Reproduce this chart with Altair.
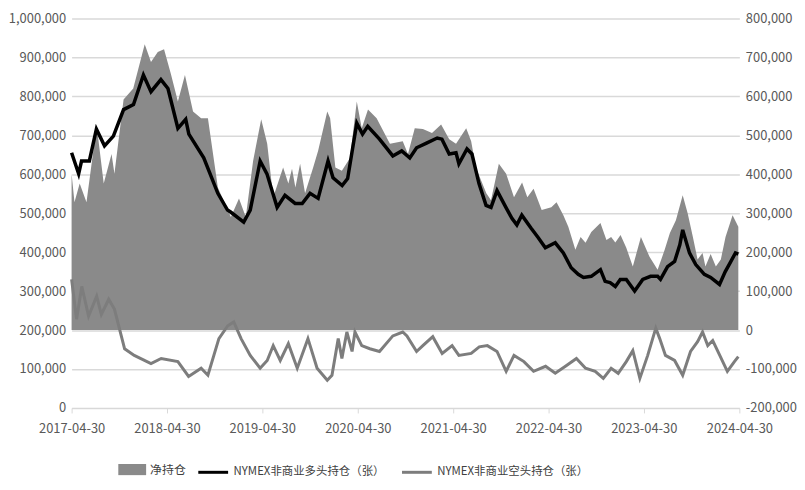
import altair as alt
import pandas as pd

NET = "净持仓"
LONG = "NYMEX非商业多头持仓（张）"
SHORT = "NYMEX非商业空头持仓（张）"

# Net position (right axis), contracts
net_dates = [
    "2017-04-30", "2017-05-11", "2017-05-31", "2017-06-26", "2017-08-04", "2017-08-31",
    "2017-09-30", "2017-10-11", "2017-11-15", "2017-12-22", "2018-02-04", "2018-02-28",
    "2018-03-26", "2018-04-19", "2018-05-15", "2018-06-11", "2018-07-08", "2018-08-08",
    "2018-09-08", "2018-10-04", "2018-11-11", "2018-12-31", "2019-01-31", "2019-02-26",
    "2019-03-26", "2019-04-26", "2019-05-19", "2019-06-11", "2019-07-19", "2019-08-08",
    "2019-08-22", "2019-09-04", "2019-09-22", "2019-10-11", "2019-11-11", "2019-11-30",
    "2020-01-04", "2020-01-15", "2020-02-04", "2020-02-29", "2020-03-31", "2020-04-26",
    "2020-05-15", "2020-06-08", "2020-07-11", "2020-08-31", "2020-10-19", "2020-11-08",
    "2020-12-04", "2021-01-04", "2021-02-08", "2021-03-15", "2021-04-15", "2021-05-11",
    "2021-06-19", "2021-07-08", "2021-07-26", "2021-09-04", "2021-09-22", "2021-10-22",
    "2021-11-19", "2021-12-19", "2022-01-19", "2022-02-08", "2022-03-04", "2022-04-04",
    "2022-05-11", "2022-05-31", "2022-06-26", "2022-07-15", "2022-08-11", "2022-08-31",
    "2022-09-19", "2022-10-11", "2022-11-15", "2022-12-08", "2022-12-26", "2023-01-11",
    "2023-01-31", "2023-02-22", "2023-03-19", "2023-04-19", "2023-05-22", "2023-06-22",
    "2023-07-19", "2023-08-08", "2023-08-31", "2023-09-26", "2023-10-15", "2023-11-04",
    "2023-11-22", "2023-12-11", "2023-12-22", "2024-01-11", "2024-01-31", "2024-02-19",
    "2024-03-08", "2024-04-04", "2024-04-26",
]
net_values = [
    401000, 328000, 376000, 328000, 525000, 376000,
    452000, 401000, 592000, 620000, 734000, 688000,
    714000, 721000, 658000, 587000, 655000, 561000,
    544000, 544000, 366000, 290000, 338000, 290000,
    434000, 541000, 478000, 341000, 417000, 376000,
    414000, 366000, 427000, 351000, 417000, 460000,
    561000, 544000, 417000, 409000, 442000, 587000,
    518000, 566000, 544000, 478000, 485000, 452000,
    518000, 516000, 506000, 528000, 490000, 478000,
    518000, 485000, 417000, 351000, 333000, 427000,
    401000, 341000, 379000, 341000, 363000, 308000,
    315000, 328000, 295000, 265000, 206000, 239000,
    224000, 252000, 275000, 231000, 239000, 225000,
    244000, 211000, 163000, 239000, 188000, 155000,
    206000, 249000, 282000, 346000, 300000, 239000,
    181000, 198000, 163000, 195000, 163000, 181000,
    239000, 295000, 265000,
]

# Non-commercial long (left axis), contracts
long_dates = [
    "2017-04-30", "2017-05-27", "2017-06-07", "2017-07-07", "2017-08-03", "2017-09-03",
    "2017-10-07", "2017-11-15", "2017-12-23", "2018-01-30", "2018-02-28", "2018-04-07",
    "2018-05-04", "2018-06-11", "2018-07-11", "2018-07-23", "2018-09-18", "2018-11-11",
    "2018-12-18", "2018-12-30", "2019-02-18", "2019-03-15", "2019-04-22", "2019-05-18",
    "2019-06-26", "2019-07-26", "2019-09-03", "2019-09-30", "2019-10-30", "2019-11-30",
    "2020-01-07", "2020-01-26", "2020-03-01", "2020-03-22", "2020-04-26", "2020-05-18",
    "2020-06-07", "2020-07-22", "2020-09-11", "2020-10-15", "2020-11-15", "2020-12-11",
    "2021-01-18", "2021-02-28", "2021-03-18", "2021-04-15", "2021-05-11", "2021-05-22",
    "2021-06-22", "2021-07-11", "2021-08-07", "2021-09-03", "2021-09-22", "2021-10-15",
    "2021-11-18", "2021-12-11", "2021-12-30", "2022-01-18", "2022-02-22", "2022-03-22",
    "2022-04-18", "2022-05-26", "2022-06-26", "2022-07-26", "2022-08-22", "2022-09-11",
    "2022-10-11", "2022-11-15", "2022-12-03", "2022-12-22", "2023-01-11", "2023-01-30",
    "2023-02-22", "2023-03-26", "2023-04-26", "2023-05-26", "2023-06-22", "2023-07-03",
    "2023-07-30", "2023-08-26", "2023-09-15", "2023-09-26", "2023-10-22", "2023-11-15",
    "2023-12-18", "2024-01-11", "2024-02-14", "2024-03-07", "2024-03-26", "2024-04-15",
    "2024-04-26",
]
long_values = [
    655000, 601000, 634000, 634000, 716000, 673000,
    698000, 766000, 779000, 855000, 812000, 843000,
    820000, 718000, 741000, 703000, 642000, 551000,
    508000, 503000, 477000, 508000, 634000, 601000,
    515000, 546000, 525000, 525000, 551000, 538000,
    634000, 591000, 571000, 589000, 731000, 703000,
    723000, 690000, 647000, 660000, 642000, 668000,
    680000, 693000, 690000, 652000, 655000, 627000,
    665000, 652000, 576000, 520000, 515000, 558000,
    515000, 487000, 470000, 495000, 462000, 437000,
    411000, 424000, 398000, 360000, 343000, 335000,
    338000, 355000, 325000, 322000, 312000, 330000,
    330000, 300000, 330000, 338000, 338000, 330000,
    363000, 376000, 419000, 457000, 398000, 368000,
    343000, 335000, 317000, 350000, 373000, 398000,
    395000,
]

# Non-commercial short (left axis), contracts
short_dates = [
    "2017-04-30", "2017-05-19", "2017-06-08", "2017-07-04", "2017-08-04", "2017-08-22",
    "2017-09-19", "2017-10-11", "2017-11-19", "2017-12-26", "2018-02-28", "2018-04-08",
    "2018-06-11", "2018-07-22", "2018-09-08", "2018-10-04", "2018-11-15", "2018-12-19",
    "2019-01-11", "2019-02-08", "2019-03-15", "2019-04-22", "2019-05-19", "2019-06-11",
    "2019-07-08", "2019-08-08", "2019-09-11", "2019-10-22", "2019-11-26", "2020-01-04",
    "2020-01-22", "2020-02-15", "2020-02-29", "2020-03-19", "2020-04-08", "2020-04-19",
    "2020-05-15", "2020-06-15", "2020-07-22", "2020-09-11", "2020-10-19", "2020-11-04",
    "2020-12-11", "2021-01-04", "2021-02-11", "2021-03-19", "2021-04-26", "2021-05-22",
    "2021-07-08", "2021-08-08", "2021-09-08", "2021-10-15", "2021-11-19", "2021-12-19",
    "2022-01-26", "2022-03-04", "2022-04-19", "2022-05-26", "2022-07-04", "2022-08-15",
    "2022-09-19", "2022-10-26", "2022-11-26", "2022-12-26", "2023-01-22", "2023-02-22",
    "2023-03-19", "2023-04-15", "2023-05-15", "2023-06-15", "2023-06-30", "2023-07-22",
    "2023-08-26", "2023-09-26", "2023-10-26", "2023-11-22", "2023-12-11", "2023-12-31",
    "2024-01-19", "2024-02-15", "2024-03-15", "2024-04-11", "2024-04-26",
]
short_values = [
    330000, 228000, 312000, 236000, 287000, 240000,
    279000, 254000, 152000, 135000, 114000, 127000,
    119000, 81000, 102000, 84000, 178000, 211000,
    221000, 178000, 135000, 102000, 122000, 160000,
    122000, 165000, 102000, 178000, 102000, 71000,
    84000, 178000, 127000, 195000, 145000, 195000,
    160000, 152000, 145000, 185000, 195000, 185000,
    145000, 160000, 183000, 140000, 160000, 135000,
    140000, 157000, 160000, 145000, 94000, 135000,
    119000, 94000, 107000, 89000, 107000, 127000,
    102000, 94000, 76000, 102000, 89000, 119000,
    147000, 76000, 135000, 205000, 178000, 135000,
    122000, 84000, 145000, 170000, 195000, 160000,
    173000, 135000, 94000, 119000, 132000,
]

net_df = pd.DataFrame({"date": pd.to_datetime(net_dates), "value": net_values, "series": NET})
long_df = pd.DataFrame({"date": pd.to_datetime(long_dates), "value": long_values, "series": LONG})
short_df = pd.DataFrame({"date": pd.to_datetime(short_dates), "value": short_values, "series": SHORT})

FONT = "Noto Sans CJK SC"
LABEL_COLOR = "#595959"
GRID = "#d9d9d9"

years = list(range(2017, 2025))
x_enc = alt.X(
    "date:T",
    scale=alt.Scale(domain=[alt.DateTime(year=2017, month=4, date=30),
                            alt.DateTime(year=2024, month=4, date=30)]),
    axis=alt.Axis(
        values=[alt.DateTime(year=y, month=4, date=30) for y in years],
        format="%Y-%m-%d", title=None, grid=False, labelFlush=False,
        domainColor=GRID, tickColor=GRID, tickSize=5, labelPadding=10,
        labelFont=FONT, labelFontSize=13, labelColor=LABEL_COLOR,
    ),
)

area = alt.Chart(net_df).mark_area(opacity=1).encode(
    x=x_enc,
    y=alt.Y(
        "value:Q",
        scale=alt.Scale(domain=[-200000, 800000], nice=False, zero=False),
        axis=alt.Axis(
            orient="right", values=list(range(-200000, 800001, 100000)),
            labelExpr="replace(format(datum.value, ','), '−', '-')",
            grid=False, domain=False, ticks=False, title=None, labelPadding=6,
            labelFont=FONT, labelFontSize=13, labelColor=LABEL_COLOR,
        ),
    ),
    y2=alt.datum(0),
    fill=alt.Fill(
        "series:N",
        scale=alt.Scale(domain=[NET], range=["#8a8a8a"]),
        legend=alt.Legend(
            orient="none", legendX=47, legendY=440, direction="horizontal", title=None,
            symbolType="M-1,-0.4H1V0.4H-1Z", symbolSize=784, symbolStrokeWidth=0,
            symbolOpacity=1, labelFont=FONT, labelFontSize=12, labelColor="#404040",
            labelOffset=4,
        ),
    ),
)

y_left = alt.Y(
    "value:Q",
    scale=alt.Scale(domain=[0, 1000000], nice=False),
    axis=alt.Axis(
        orient="left", values=list(range(0, 1000001, 100000)),
        labelExpr="format(datum.value, ',')",
        grid=True, gridColor=GRID, gridWidth=1.5, domain=False, ticks=False, title=None,
        labelPadding=6, labelFont=FONT, labelFontSize=13, labelColor=LABEL_COLOR,
    ),
)
stroke_enc = alt.Stroke(
    "series:N",
    scale=alt.Scale(domain=[LONG, SHORT], range=["#000000", "#7d7d7d"]),
    legend=alt.Legend(
        orient="none", legendX=126, legendY=440, direction="horizontal", title=None,
        symbolType="stroke", symbolSize=900, symbolStrokeWidth=3, columnPadding=10,
        labelFont=FONT, labelFontSize=11.5, labelColor="#404040", labelOffset=4,
        labelLimit=300,
    ),
)

short_line = alt.Chart(short_df).mark_line(strokeWidth=3).encode(
    x=x_enc, y=y_left, stroke=stroke_enc
)
long_line = alt.Chart(long_df).mark_line(strokeWidth=3.5).encode(
    x=x_enc, y=y_left, stroke=stroke_enc
)
lines = alt.layer(short_line, long_line)

chart = alt.layer(area, lines).resolve_scale(y="independent").properties(
    width=672, height=392,
    padding={"left": 0, "top": 3, "right": 0, "bottom": 0},
    background="white",
).configure_view(stroke=None)

chart.save("out.html", embed_options={"renderer": "svg", "actions": False})
